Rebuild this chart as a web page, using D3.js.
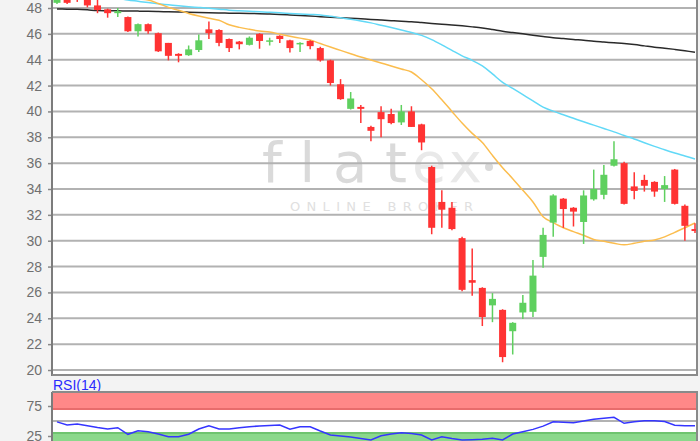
<!DOCTYPE html>
<html>
<head>
<meta charset="utf-8">
<script src="https://cdn.jsdelivr.net/npm/d3@7"></script>
<style>
  body { margin: 0; background: #f3f3f3; }
  svg { display: block; font-family: "Liberation Sans", Arial, sans-serif; }
  .wm text { font-variant-ligatures: none; }
</style>
</head>
<body>
<div id="chart"></div>
<script>
// daily candles (oldest first)
const open  = [48.40,48.80,48.90,48.70,48.20,47.90,47.60,47.30,46.20,46.75,46.05,45.30,44.45,44.35,44.75,46.35,
               46.30,45.60,45.40,45.15,46.00,45.40,45.85,45.50,45.25,45.45,44.90,43.95,42.10,40.20,40.35,38.80,
               39.95,39.80,39.15,40.00,39.00,35.70,33.00,32.55,30.20,26.95,26.35,25.00,24.65,23.00,24.45,24.50,
               28.75,31.40,33.25,32.55,31.45,33.20,33.55,35.80,36.00,34.20,34.70,34.55,34.00,35.50,32.70,30.90];
const high  = [48.90,49.00,49.10,48.75,48.70,47.95,48.00,47.35,46.80,46.80,46.10,45.30,44.50,45.10,45.95,46.95,
               46.35,45.65,45.45,45.80,46.05,45.70,45.90,45.55,45.35,45.50,45.00,44.00,42.50,41.50,40.50,38.90,
               40.40,40.20,40.50,40.40,39.05,35.80,33.90,33.00,30.30,29.40,26.40,25.95,24.70,23.70,25.80,28.50,
               31.00,33.60,33.30,32.60,33.90,35.50,35.85,37.70,36.10,35.30,35.10,34.60,35.00,35.55,32.80,31.35];
const low   = [48.30,48.30,48.47,48.05,47.60,47.25,47.30,46.15,45.80,46.00,44.60,43.95,43.80,44.30,44.60,45.60,
               45.05,44.60,44.80,45.10,44.85,45.10,45.30,44.55,44.60,44.80,43.85,42.00,40.90,40.15,39.10,37.70,
               38.00,39.00,38.95,38.80,37.00,30.50,31.00,30.80,26.10,25.75,23.40,23.70,20.60,21.20,23.95,24.10,
               27.90,30.30,31.00,31.10,29.75,33.10,33.20,35.75,32.80,33.20,33.80,33.40,33.00,32.80,30.00,30.60];
const close = [48.70,48.40,48.70,48.20,47.85,47.60,47.75,46.20,46.75,46.20,44.65,44.30,44.30,44.80,45.50,46.05,
               45.30,44.90,45.20,45.70,45.45,45.50,45.60,44.90,45.30,45.05,43.95,42.20,40.95,41.00,40.20,38.50,
               39.40,39.10,40.00,38.80,37.60,31.00,32.40,30.90,26.20,26.75,24.10,25.50,21.00,23.65,25.20,27.30,
               30.45,33.50,32.45,32.25,33.50,34.00,35.10,36.30,32.85,33.85,34.25,33.80,34.30,32.85,31.15,30.75];

// moving averages (orange, cyan, black)
const sma20  = [49.80,49.62,49.45,49.30,49.15,49.02,48.90,48.80,48.70,48.62,48.35,48.05,47.82,47.58,47.38,47.20,
                47.05,46.70,46.50,46.35,46.22,46.14,45.98,45.82,45.67,45.52,45.25,44.98,44.72,44.46,44.21,43.98,
                43.75,43.52,43.28,43.05,42.45,41.75,40.90,40.00,39.10,38.30,37.60,36.60,35.65,34.80,33.90,33.00,
                31.85,31.40,31.00,30.70,30.42,30.10,29.95,29.80,29.68,29.80,29.95,30.06,30.30,30.65,31.00,31.37];
const sma50  = [49.45,49.35,49.25,49.12,49.00,48.88,48.75,48.62,48.52,48.42,48.33,48.25,48.17,48.10,48.04,47.98,
                47.91,47.83,47.78,47.74,47.71,47.67,47.63,47.58,47.54,47.50,47.46,47.36,47.24,47.13,47.00,46.85,
                46.67,46.49,46.30,46.10,45.88,45.55,45.15,44.72,44.30,43.95,43.52,42.90,42.25,41.78,41.30,40.82,
                40.33,40.02,39.74,39.47,39.20,38.94,38.68,38.42,38.14,37.87,37.58,37.30,37.03,36.78,36.55,36.32];
const sma200 = [47.92,47.91,47.90,47.86,47.80,47.79,47.78,47.77,47.76,47.74,47.72,47.71,47.70,47.68,47.66,47.64,
                47.62,47.60,47.59,47.58,47.56,47.53,47.50,47.46,47.42,47.38,47.33,47.29,47.25,47.21,47.16,47.12,
                47.07,47.02,46.97,46.93,46.87,46.81,46.75,46.69,46.62,46.54,46.45,46.33,46.20,46.10,46.00,45.89,
                45.79,45.70,45.64,45.57,45.51,45.43,45.37,45.31,45.25,45.17,45.07,44.97,44.89,44.80,44.70,44.58];

// RSI(14)
const rsi = [48.5,43.3,45.0,42.0,39.0,36.7,38.8,27.8,33.8,32.2,28.3,23.8,23.8,28.0,36.7,42.2,
             36.7,36.7,38.8,40.5,41.7,42.5,43.3,36.2,40.5,40.5,33.3,26.7,25.0,23.3,20.8,18.3,
             25.5,28.3,30.5,29.2,26.7,18.3,23.8,20.8,18.3,18.8,19.5,21.2,18.3,28.3,32.2,36.0,
             41.5,48.8,48.0,47.2,50.0,52.8,54.5,56.2,46.2,48.8,50.5,50.5,49.0,43.0,42.2,42.2];

const yTicks = [20,22,24,26,28,30,32,34,36,38,40,42,44,46,48];
const rsiTicks = [25,75];
const rsiGrid = [50];
const overbought = [70,100];
const oversold = [0,30];

drawChart();

function drawChart(){
    const width = 700, height = 441;
    const main = {left: 52, right: 697, top: -4, bottom: 375};
    const pane = {left: 52, right: 697, top: 392, bottom: 452};
    const n = close.length;

    const svg = d3.select('#chart').append('svg')
        .attr('width', width)
        .attr('height', height);

    svg.append('rect').attr('width', width).attr('height', height).attr('fill', '#f3f3f3');

    // scales
    const x = d3.scaleLinear().domain([0, n - 1]).range([57, 695]);
    const y = d3.scaleLinear().domain([20, 48]).range([370, 8]);
    const yr = d3.scaleLinear().domain([0, 100]).range([451, 391]);

    const defs = svg.append('defs');
    defs.append('clipPath').attr('id', 'clipMain').append('rect')
        .attr('x', main.left).attr('y', main.top)
        .attr('width', main.right - main.left).attr('height', main.bottom - main.top);
    defs.append('clipPath').attr('id', 'clipRsi').append('rect')
        .attr('x', pane.left).attr('y', pane.top)
        .attr('width', pane.right - pane.left).attr('height', pane.bottom - pane.top);

    // ---------- main pane ----------
    svg.append('rect')
        .attr('x', main.left).attr('y', main.top)
        .attr('width', main.right - main.left).attr('height', main.bottom - main.top)
        .attr('fill', '#fff');

    // watermark
    const wm = svg.append('g').attr('class', 'wm').attr('font-family', '"DejaVu Sans", sans-serif');
    wm.append('text').attr('x', 262).attr('y', 182)
        .attr('font-size', 56).attr('fill', '#dadada')
        .attr('textLength', 145).attr('lengthAdjust', 'spacing').text('flat');
    wm.append('text').attr('x', 412).attr('y', 182)
        .attr('font-size', 56).attr('fill', '#e9e9e9')
        .attr('textLength', 70).attr('lengthAdjust', 'spacing').text('ex');
    wm.append('circle').attr('cx', 489).attr('cy', 167).attr('r', 4).attr('fill', '#dadada');
    wm.append('text').attr('x', 290).attr('y', 211)
        .attr('font-size', 13).attr('fill', '#e0e0e0')
        .attr('textLength', 183).attr('lengthAdjust', 'spacing').text('ONLINE BROKER');

    // grid
    svg.append('g').selectAll('line').data(yTicks).join('line')
        .attr('x1', main.left).attr('x2', main.right)
        .attr('y1', d => y(d)).attr('y2', d => y(d))
        .attr('stroke', '#b2b2b2').attr('stroke-width', 2);

    const plot = svg.append('g').attr('clip-path', 'url(#clipMain)');

    // moving averages
    const maLine = d3.line().x((d, i) => x(i)).y(d => y(d)).curve(d3.curveMonotoneX);
    [[sma200, '#2a2a2a'], [sma50, '#62d9f7'], [sma20, '#fbbd4e']].forEach(function(s){
        plot.append('path').datum(s[0])
            .attr('fill', 'none').attr('stroke', s[1]).attr('stroke-width', 1.5)
            .attr('d', maLine);
    });

    // candles
    const candles = d3.range(n).map(i => ({i, o: open[i], h: high[i], l: low[i], c: close[i]}));
    const colorOf = d => d.c >= d.o ? '#5fd05f' : '#ff3333';
    const cg = plot.append('g').selectAll('g').data(candles).join('g');
    cg.append('line')
        .attr('x1', d => x(d.i)).attr('x2', d => x(d.i))
        .attr('y1', d => y(d.h)).attr('y2', d => y(d.l))
        .attr('stroke', colorOf).attr('stroke-width', 1.5);
    cg.append('rect')
        .attr('x', d => x(d.i) - 3.5).attr('width', 7)
        .attr('y', d => y(Math.max(d.o, d.c)))
        .attr('height', d => Math.max(1.5, Math.abs(y(d.o) - y(d.c))))
        .attr('fill', colorOf);

    // axis
    const yAxis = d3.axisLeft(y).tickValues(yTicks).tickSize(4).tickPadding(6);
    const ax = svg.append('g').attr('transform', `translate(${main.left},0)`).call(yAxis);
    styleAxis(ax);

    // frame
    svg.append('line').attr('x1', main.left).attr('x2', main.left).attr('y1', main.top).attr('y2', main.bottom + 1)
        .attr('stroke', '#7c7c7c').attr('stroke-width', 2);
    svg.append('line').attr('x1', main.left).attr('x2', main.right + 1).attr('y1', main.bottom).attr('y2', main.bottom)
        .attr('stroke', '#8a8a8a').attr('stroke-width', 2);
    svg.append('line').attr('x1', main.right).attr('x2', main.right).attr('y1', main.top).attr('y2', main.bottom)
        .attr('stroke', '#8a8a8a').attr('stroke-width', 2);

    // ---------- RSI pane ----------
    svg.append('text').attr('x', 53).attr('y', 390)
        .attr('font-size', 14).attr('fill', '#2a2aff').text('RSI(14)');

    svg.append('rect')
        .attr('x', pane.left).attr('y', pane.top)
        .attr('width', pane.right - pane.left).attr('height', pane.bottom - pane.top)
        .attr('fill', '#fff');

    const rp = svg.append('g').attr('clip-path', 'url(#clipRsi)');
    [[overbought, '#ff8888', '#e86c6c'], [oversold, '#8bd88b', '#6fc46f']].forEach(function(b){
        rp.append('rect')
            .attr('x', pane.left).attr('width', pane.right - pane.left)
            .attr('y', yr(b[0][1])).attr('height', yr(b[0][0]) - yr(b[0][1]))
            .attr('fill', b[1]);
        rp.selectAll(null).data(b[0]).join('line')
            .attr('x1', pane.left).attr('x2', pane.right)
            .attr('y1', d => yr(d)).attr('y2', d => yr(d))
            .attr('stroke', b[2]).attr('stroke-width', 2);
    });
    rp.selectAll(null).data(rsiGrid).join('line')
        .attr('x1', pane.left).attr('x2', pane.right)
        .attr('y1', d => yr(d)).attr('y2', d => yr(d))
        .attr('stroke', '#b2b2b2').attr('stroke-width', 2);

    rp.append('path').datum(rsi)
        .attr('fill', 'none').attr('stroke', '#3535ff').attr('stroke-width', 1.5)
        .attr('d', d3.line().x((d, i) => x(i)).y(d => yr(d)));

    const rAxis = d3.axisLeft(yr).tickValues(rsiTicks).tickSize(4).tickPadding(6);
    const rax = svg.append('g').attr('transform', `translate(${pane.left},0)`).call(rAxis);
    styleAxis(rax);

    svg.append('line').attr('x1', pane.left).attr('x2', pane.left).attr('y1', pane.top).attr('y2', pane.bottom)
        .attr('stroke', '#7c7c7c').attr('stroke-width', 2);
    svg.append('line').attr('x1', pane.left).attr('x2', pane.right + 1).attr('y1', pane.top).attr('y2', pane.top)
        .attr('stroke', '#8a8a8a').attr('stroke-width', 2);
    svg.append('line').attr('x1', pane.right).attr('x2', pane.right).attr('y1', pane.top).attr('y2', pane.bottom)
        .attr('stroke', '#8a8a8a').attr('stroke-width', 2);

    function styleAxis(g){
        g.select('.domain').remove();
        g.selectAll('.tick line').attr('stroke', '#888').attr('stroke-width', 1.5);
        g.selectAll('.tick text')
            .attr('fill', '#707070')
            .attr('font-size', 14)
            .attr('font-family', '"Liberation Sans", Arial, sans-serif');
    }
}
</script>
</body>
</html>
